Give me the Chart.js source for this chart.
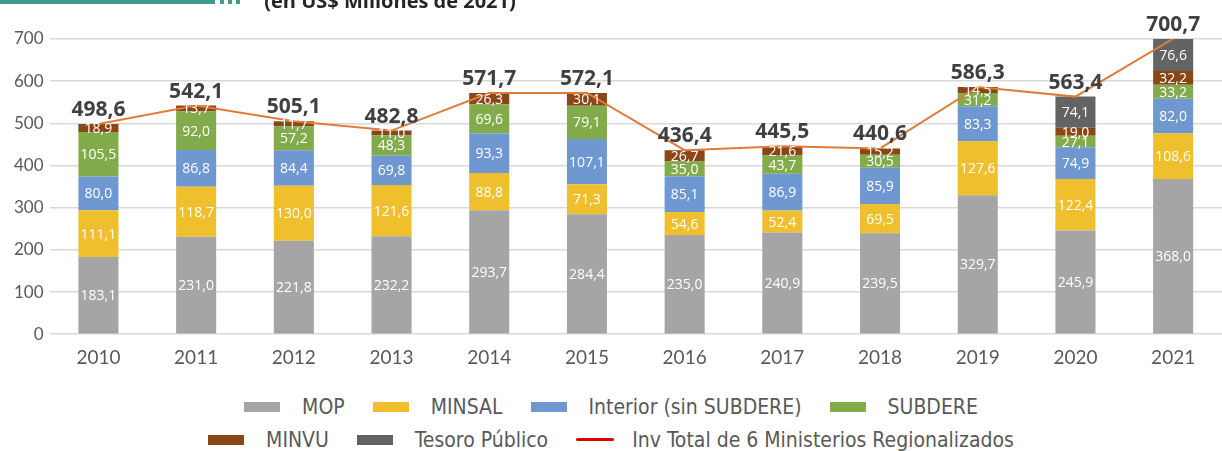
<!DOCTYPE html>
<html>
<head>
<meta charset="utf-8">
<script src="https://cdn.jsdelivr.net/npm/chart.js@4.4.1/dist/chart.umd.min.js"></script>
<style>
  body { margin: 0; background: #fff; }
  #wrap { position: relative; width: 1222px; height: 380px; }
  #legend { font-family: "Liberation Sans Narrow", "DejaVu Sans Condensed", sans-serif; font-size: 21px; color: #595959; padding-top: 10px; }
  .row { display: flex; justify-content: center; align-items: center; height: 33px; }
  .item { display: flex; align-items: center; margin: 0 14px; }
  .sw { width: 36px; height: 10px; margin-right: 22px; }
  .ln { width: 38px; height: 3px; margin-right: 18px; border-radius: 2px; }
</style>
</head>
<body>
<div id="wrap"><canvas id="chart"></canvas></div>
<div id="legend"></div>
<script>
const years = ['2010', '2011', '2012', '2013', '2014', '2015', '2016', '2017', '2018', '2019', '2020', '2021'];
const mop = [183.1, 231.0, 221.8, 232.2, 293.7, 284.4, 235.0, 240.9, 239.5, 329.7, 245.9, 368.0];
const minsal = [111.1, 118.7, 130.0, 121.6, 88.8, 71.3, 54.6, 52.4, 69.5, 127.6, 122.4, 108.6];
const interior = [80.0, 86.8, 84.4, 69.8, 93.3, 107.1, 85.1, 86.9, 85.9, 83.3, 74.9, 82.0];
const subdere = [105.5, 92.0, 57.2, 48.3, 69.6, 79.1, 35.0, 43.7, 30.5, 31.2, 27.1, 33.2];
const minvu = [18.9, 13.7, 11.7, 11.0, 26.3, 30.1, 26.7, 21.6, 15.2, 14.5, 19.0, 32.2];
const tesoro = [null, null, null, null, null, null, null, null, null, null, 74.1, 76.6];
const total = [498.6, 542.1, 505.1, 482.8, 571.7, 572.1, 436.4, 445.5, 440.6, 586.3, 563.4, 700.7];
const yTicks = [0, 100, 200, 300, 400, 500, 600, 700];

const fmt = v => v.toFixed(1).replace('.', ',');

function bar(label, data, color) {
    return {
        type: 'bar', label: label, data: data, backgroundColor: color,
        borderWidth: 0, stack: 's', barPercentage: 0.41, categoryPercentage: 1, order: 2
    };
}

// header decoration + value labels
const labelPlugin = {
    id: 'labels',
    beforeDraw(chart) {
        const c = chart.ctx;
        c.save();
        c.fillStyle = '#3c9e8c';
        c.fillRect(0, 0, 215, 4);
        [220, 228, 236].forEach(x => c.fillRect(x, 0, 4, 4));
        c.fillStyle = '#262626';
        c.font = 'bold 20px "Open Sans", sans-serif';
        c.textAlign = 'center';
        c.textBaseline = 'alphabetic';
        c.fillText('(en US$ Millones de 2021)', 390, 8);
        c.restore();
    },
    afterDatasetsDraw(chart) {
        const c = chart.ctx;
        c.save();
        c.textAlign = 'center';
        c.textBaseline = 'middle';
        c.font = '14px "Open Sans", sans-serif';
        c.fillStyle = '#ffffff';
        chart.data.datasets.forEach((ds, i) => {
            if (ds.type !== 'bar') return;
            chart.getDatasetMeta(i).data.forEach((el, j) => {
                const v = ds.data[j];
                if (v == null) return;
                c.fillText(fmt(v), el.x, (el.y + el.base) / 2 + 1);
            });
        });
        const y = chart.scales.y;
        c.font = 'bold 21px "Open Sans", sans-serif';
        c.fillStyle = '#404040';
        c.textBaseline = 'alphabetic';
        const meta = chart.getDatasetMeta(0);
        total.forEach((v, j) => {
            c.fillText(fmt(v), meta.data[j].x, y.getPixelForValue(v) - 8);
        });
        c.restore();
    }
};

const ctx = document.getElementById('chart').getContext('2d');
const chart = new Chart(ctx, {
    data: {
        labels: years,
        datasets: [
            bar('MOP', mop, '#a5a5a5'),
            bar('MINSAL', minsal, '#efbf2d'),
            bar('Interior (sin SUBDERE)', interior, '#6f98d1'),
            bar('SUBDERE', subdere, '#82ab4b'),
            bar('MINVU', minvu, '#8b4617'),
            bar('Tesoro Público', tesoro, '#636363'),
            {
                type: 'line', label: 'Inv Total de 6 Ministerios Regionalizados', data: total,
                borderColor: '#e07b39', borderWidth: 2, pointRadius: 0, tension: 0,
                order: 1, legendColor: '#e00000'
            }
        ]
    },
    options: {
        responsive: true,
        maintainAspectRatio: false,
        animation: false,
        layout: { padding: { top: 39, left: 8, right: 0, bottom: 7 } },
        plugins: {
            legend: { display: false },
            tooltip: { enabled: false }
        },
        scales: {
            x: {
                stacked: true,
                grid: { display: false },
                border: { display: false },
                ticks: { color: '#595959', font: { family: 'Lato', size: 19 }, padding: 4 }
            },
            y: {
                stacked: true,
                min: 0, max: 700,
                afterBuildTicks: s => { s.ticks = yTicks.map(v => ({ value: v })); },
                grid: { color: '#d9d9d9', lineWidth: 1.5, drawTicks: false },
                border: { display: false },
                ticks: { color: '#595959', font: { family: 'Lato', size: 17 }, padding: 6 }
            }
        }
    },
    plugins: [labelPlugin]
});

// html legend, two rows like the original
const rows = [[0, 1, 2, 3], [4, 5, 6]];
const leg = document.getElementById('legend');
rows.forEach(r => {
    const row = document.createElement('div');
    row.className = 'row';
    r.forEach(i => {
        const ds = chart.data.datasets[i];
        const it = document.createElement('div');
        it.className = 'item';
        const sw = document.createElement('span');
        sw.className = ds.type === 'line' ? 'ln' : 'sw';
        sw.style.background = ds.type === 'line' ? ds.legendColor : ds.backgroundColor;
        it.appendChild(sw);
        it.appendChild(document.createTextNode(ds.label));
        row.appendChild(it);
    });
    leg.appendChild(row);
});
</script>
</body>
</html>
